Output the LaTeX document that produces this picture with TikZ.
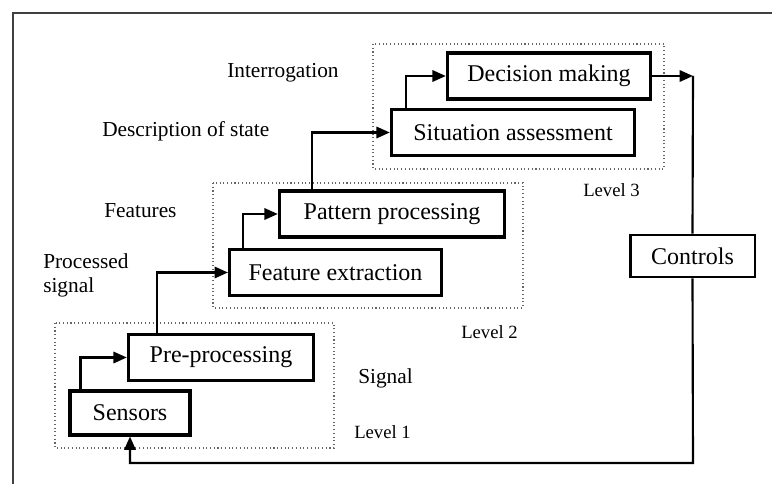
\documentclass[tikz,border=0pt]{standalone}
\usepackage{fontspec}
\setmainfont{Liberation Serif}
\usetikzlibrary{arrows.meta}
\begin{document}
\begin{tikzpicture}[x=0.75pt,y=-0.75pt,
  stage/.style={draw=black,line width=2.3pt,inner sep=0pt,
    font=\fontsize{18}{20}\selectfont},
  ctrl/.style={draw=black,line width=2pt,inner sep=0pt,
    font=\fontsize{18}{20}\selectfont},
  label/.style={inner sep=0pt,anchor=base west,
    font=\fontsize{16}{18}\selectfont},
  lvl/.style={inner sep=0pt,anchor=base west,
    font=\fontsize{14}{16}\selectfont},
  group/.style={draw=black!60,dotted,line width=0.8pt},
  arr/.style={line width=1.6pt,-{Triangle[length=10pt,width=8.5pt]}},
  wire/.style={line width=1.6pt}]
\useasboundingbox (0,0) rectangle (772,484);

% outer frame
\draw[line width=1.4pt,black!75] (13,484) -- (13,13) -- (772,13);

% level groups
\draw[group] (55,323) rectangle (334,448);
\draw[group] (213,183) rectangle (523,308);
\draw[group] (373,44) rectangle (664,169);

% processing stages
\node[stage,minimum width=90pt,minimum height=33pt] (sensors) at (130,413) {Sensors};
\node[stage,minimum width=139pt,minimum height=34pt] (pre) at (221,357.5) {Pre-processing};
\node[stage,minimum width=159pt,minimum height=34pt] (fe) at (335.5,272.5) {Feature extraction};
\node[stage,minimum width=169pt,minimum height=34.5pt] (pp) at (392,214) {Pattern processing};
\node[stage,minimum width=182.5pt,minimum height=34pt] (sa) at (513,132.5) {Situation assessment};
\node[stage,minimum width=152.5pt,minimum height=34.5pt] (dm) at (549,76) {Decision making};
\node[ctrl,minimum width=93.5pt,minimum height=31.5pt] (controls) at (692.5,256) {Controls};

% side labels
\node[label] (interr) at (227,78) {Interrogation};
\node[label] (desc) at (102,137) {Description of state};
\node[label] (feat) at (104,218) {Features};
\node[label,anchor=north west,align=left] (psig) at (43,253) {Processed\\signal};
\node[label] (sig) at (358,384) {Signal};
\node[lvl] (lv1) at (354,439) {Level 1};
\node[lvl] (lv2) at (461,339) {Level 2};
\node[lvl] (lv3) at (583,197) {Level 3};

% connectors between stages
\draw[arr] ([xshift=9pt]sensors.north west) |- (pre.west);
\draw[arr] ([xshift=22.5pt]pre.north west) |- (fe.west);
\draw[arr] ([xshift=11.25pt]fe.north west) |- (pp.west);
\draw[arr] ([xshift=25.5pt]pp.north west) |- (sa.west);
\draw[arr] ([xshift=12pt]sa.north west) |- (dm.west);

% feedback loop through controls
\coordinate (turn) at (693,76);
\coordinate (bottom) at (693,463);
\draw[arr] (dm.east) -- (turn);
\draw[wire] (turn) -- (controls.north);
\draw[arr] (controls.south) -- (bottom) -| (sensors.south);
\end{tikzpicture}
\end{document}
